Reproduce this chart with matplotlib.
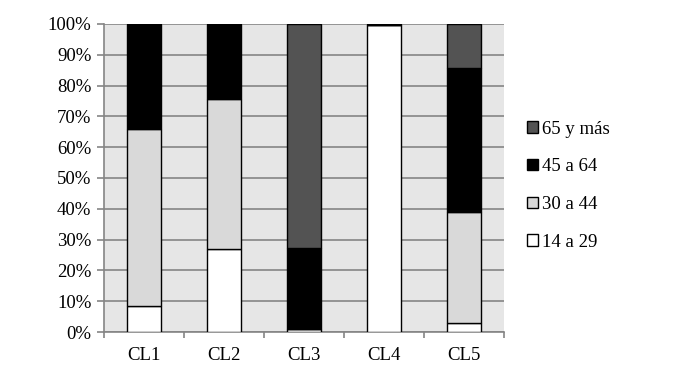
import numpy as np
import matplotlib
matplotlib.use("Agg")
from matplotlib import pyplot as plt
from matplotlib.patches import Patch

plt.rcParams["font.family"] = ["Liberation Serif", "DejaVu Serif"]
plt.rcParams["font.size"] = 13.5

CATEGORIES = ["CL1", "CL2", "CL3", "CL4", "CL5"]
SERIES = ["14 a 29", "30 a 44", "45 a 64", "65 y más"]
COLORS = ["#ffffff", "#d9d9d9", "#000000", "#535353"]

AGE_14_29 = [8.5, 26.9, 1.0, 99.6, 3.0]
AGE_30_44 = [57.3, 48.7, 0.0, 0.0, 36.0]
AGE_45_64 = [34.2, 24.4, 26.3, 0.4, 46.6]
AGE_65 = [0.0, 0.0, 72.7, 0.0, 14.4]

values = np.array([AGE_14_29, AGE_30_44, AGE_45_64, AGE_65]) / 100.0

fig = plt.figure(figsize=(6.79, 3.79), dpi=100)
ax = fig.add_axes([0.153, 0.124, 0.589, 0.813])
ax.set_facecolor("#e6e6e6")

x = np.arange(len(CATEGORIES))
bottom = np.zeros(len(CATEGORIES))
for i, vals in enumerate(values):
    ax.bar(x, vals, width=0.42, bottom=bottom, color=COLORS[i],
           edgecolor="black", linewidth=1.0, zorder=3)
    bottom += vals

ax.set_xlim(-0.5, len(CATEGORIES) - 0.5)
ax.set_ylim(0, 1)
ax.set_yticks(np.arange(0, 1.01, 0.1))
ax.set_yticklabels([f"{int(round(v * 100))}%" for v in np.arange(0, 1.01, 0.1)])
ax.yaxis.grid(True, color="#858585", linewidth=1.2, zorder=1)
ax.set_axisbelow(True)

ax.set_xticks(x)
ax.set_xticklabels(CATEGORIES)
ax.set_xticks(np.arange(-0.5, len(CATEGORIES)), minor=True)
ax.tick_params(axis="x", which="major", length=0, pad=11)
ax.tick_params(axis="x", which="minor", length=4, color="#858585", width=1.2)
ax.tick_params(axis="y", length=5, color="#858585", width=1.2, pad=4)

for side in ["top", "right"]:
    ax.spines[side].set_visible(False)
for side in ["left", "bottom"]:
    ax.spines[side].set_color("#858585")
    ax.spines[side].set_linewidth(1.2)

handles = [Patch(facecolor=COLORS[i], edgecolor="black", linewidth=1.0, label=SERIES[i])
           for i in range(len(SERIES) - 1, -1, -1)]
fig.legend(handles=handles, loc="center left", bbox_to_anchor=(0.752, 0.51),
           frameon=False, handlelength=0.55, handleheight=0.55, handletextpad=0.25,
           labelspacing=1.1, fontsize=13.5)

fig.savefig("out.png", dpi=100)
